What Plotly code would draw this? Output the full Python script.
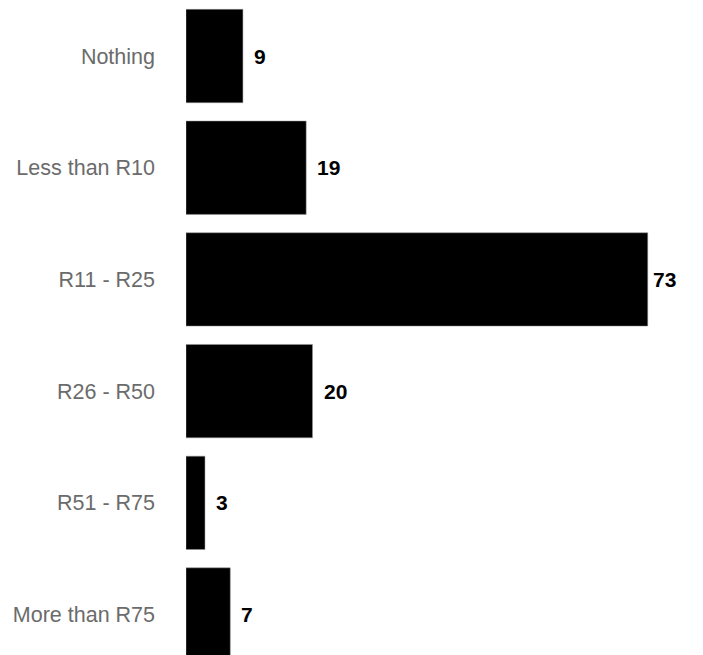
import plotly.graph_objects as go

# spend categories and respondent counts
categories = [
    "Nothing",
    "Less than R10",
    "R11 - R25",
    "R26 - R50",
    "R51 - R75",
    "More than R75",
]
counts = [9, 19, 73, 20, 3, 7]

fig = go.Figure(
    go.Bar(
        x=counts,
        y=categories,
        orientation="h",
        marker=dict(color="black", line=dict(color="#999999", width=0.5)),
        hoverinfo="x+y",
    )
)

# value labels just past the end of each bar (longest one tucked in closer)
for cat, val in zip(categories, counts):
    fig.add_annotation(
        x=val,
        y=cat,
        text=f"<b>{val}</b>",
        showarrow=False,
        xanchor="left",
        xshift=3 if val == max(counts) else 9,
        font=dict(family="Liberation Sans, Arial, sans-serif", size=21, color="black"),
    )

# page body adds 8px, so margins/ranges are shifted to compensate
fig.update_xaxes(visible=False, range=[0, 83])
fig.update_yaxes(
    categoryorder="array",
    categoryarray=categories,
    range=[5.434, -0.43],
    showgrid=False,
    showline=False,
    zeroline=False,
    ticks="",
    ticklabelstandoff=30,
    tickfont=dict(family="Liberation Sans, Arial, sans-serif", size=21.5, color="#6b6b6b"),
)
fig.update_layout(
    width=703,
    height=655,
    margin=dict(l=178, r=0, t=0, b=0),
    bargap=0.164,
    plot_bgcolor="white",
    paper_bgcolor="white",
    showlegend=False,
)

fig.write_html("out.html")
